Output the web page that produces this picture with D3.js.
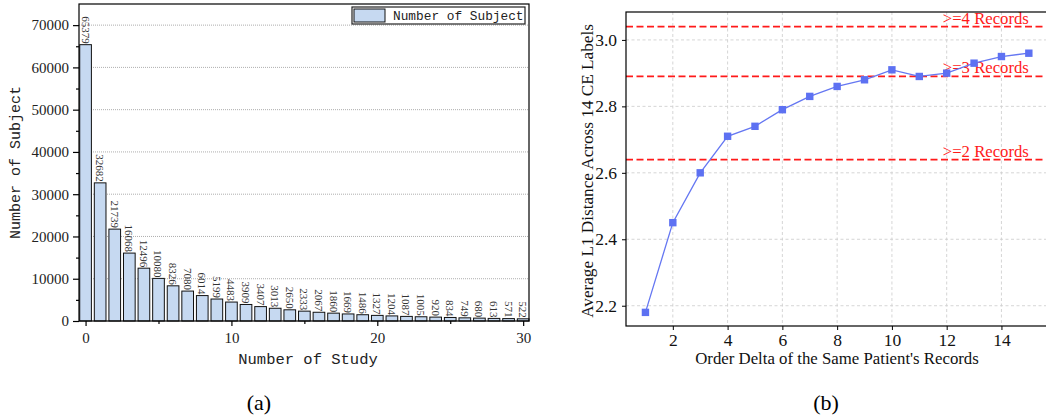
<!DOCTYPE html>
<html>
<head>
<meta charset="utf-8">
<script src="https://cdn.jsdelivr.net/npm/d3@7"></script>
<style>
  body { margin: 0; background: #fff; }
  svg { display: block; }
</style>
</head>
<body>
<div id="canvas"></div>
<script>
"use strict"

// DATA
let studyCounts = d3.range(0, 31)
let subjectCounts = [65379, 32682, 21739, 16068, 12496, 10080, 8326, 7080, 6014, 5199,
  4483, 3909, 3407, 3013, 2650, 2333, 2067, 1860, 1669, 1486,
  1327, 1204, 1087, 1005, 920, 834, 749, 680, 613, 571, 522]
let leftYTicks = [0, 10000, 20000, 30000, 40000, 50000, 60000, 70000]
let leftXTicks = [0, 10, 20, 30]

let orderDelta = [1, 2, 3, 4, 5, 6, 7, 8, 9, 10, 11, 12, 13, 14, 15]
let avgL1 = [2.18, 2.45, 2.60, 2.71, 2.74, 2.79, 2.83, 2.86, 2.88, 2.91, 2.89, 2.90, 2.93, 2.95, 2.96]
let refLevels = [3.04, 2.89, 2.64]
let refLabels = [">=4 Records", ">=3 Records", ">=2 Records"]
let rightXTicks = [2, 4, 6, 8, 10, 12, 14]
let rightYTicks = [2.2, 2.4, 2.6, 2.8, 3.0]

/* canvas */
let svgWidth = 1046
let svgHeight = 419

let svg = d3.select("#canvas")
  .append("svg")
  .attr("width", svgWidth)
  .attr("height", svgHeight)

let serif = "'Liberation Serif', 'Times New Roman', serif"
let mono = "'Liberation Mono', 'DejaVu Sans Mono', monospace"

// ---------------- LEFT CHART (a) ----------------
let aLeft = 79, aRight = 529, aTop = 4, aBottom = 321

let xA = d3.scaleLinear().domain([-0.45, 30.4]).range([aLeft, aRight])
let yA = d3.scaleLinear().domain([0, 75000]).range([aBottom, aTop])

// dotted gridlines
svg.selectAll(".gridA")
  .data(leftYTicks.slice(1))
  .join("line")
  .attr("x1", aLeft)
  .attr("x2", aRight)
  .attr("y1", d => yA(d))
  .attr("y2", d => yA(d))
  .attr("stroke", "#999")
  .attr("stroke-width", 0.8)
  .attr("stroke-dasharray", "1,1")

// bars
let barW = xA(0.8) - xA(0)
svg.selectAll(".bar")
  .data(subjectCounts)
  .join("rect")
  .attr("x", (d, i) => xA(studyCounts[i]) - barW / 2)
  .attr("y", d => yA(d))
  .attr("width", barW)
  .attr("height", d => aBottom - yA(d))
  .attr("fill", "#c6d9f1")
  .attr("stroke", "#111")
  .attr("stroke-width", 1)

// bar labels, rotated
svg.selectAll(".barLabel")
  .data(subjectCounts)
  .join("text")
  .attr("transform", (d, i) => "translate(" + xA(studyCounts[i]) + "," + (yA(d) - 1) + ") rotate(90)")
  .attr("text-anchor", "end")
  .attr("dominant-baseline", "central")
  .style("font-family", serif)
  .style("font-size", "11px")
  .attr("fill", "#333")
  .text(d => d)

// frame
svg.append("rect")
  .attr("x", aLeft)
  .attr("y", aTop)
  .attr("width", aRight - aLeft)
  .attr("height", aBottom - aTop)
  .attr("fill", "none")
  .attr("stroke", "black")
  .attr("stroke-width", 1.2)

// axes
let yAxisA = svg.append("g")
  .attr("transform", "translate(" + aLeft + ",0)")
  .call(d3.axisLeft(yA).tickValues(leftYTicks).tickSize(6).tickPadding(4).tickFormat(d3.format("d")))
svg.append("g")
  .attr("transform", "translate(" + aLeft + ",0)")
  .call(d3.axisLeft(yA).tickValues(d3.range(5000, 75000, 10000)).tickSize(3).tickFormat(""))
let xAxisA = svg.append("g")
  .attr("transform", "translate(0," + aBottom + ")")
  .call(d3.axisBottom(xA).tickValues(leftXTicks).tickSize(5).tickPadding(6))
svg.append("g")
  .attr("transform", "translate(0," + aBottom + ")")
  .call(d3.axisBottom(xA).tickValues([5, 15, 25]).tickSize(3).tickFormat(""))

svg.selectAll(".domain").remove()
svg.selectAll(".tick line").attr("stroke", "black").attr("stroke-width", 1.2)
yAxisA.selectAll("text").style("font-family", serif).style("font-size", "15px").attr("fill", "#222")
xAxisA.selectAll("text").style("font-family", serif).style("font-size", "15px").attr("fill", "#222")

// axis titles
svg.append("text")
  .attr("x", (aLeft + aRight) / 2 + 4)
  .attr("y", 364)
  .attr("text-anchor", "middle")
  .style("font-family", mono)
  .style("font-size", "15.5px")
  .attr("fill", "#222")
  .text("Number of Study")

svg.append("text")
  .attr("transform", "translate(16," + (aTop + aBottom) / 2 + ") rotate(-90)")
  .attr("text-anchor", "middle")
  .attr("dominant-baseline", "central")
  .style("font-family", mono)
  .style("font-size", "15px")
  .attr("fill", "#222")
  .text("Number of Subject")

// legend
svg.append("rect")
  .attr("x", 352)
  .attr("y", 7)
  .attr("width", 173)
  .attr("height", 17)
  .attr("fill", "white")
  .attr("stroke", "#222")
  .attr("stroke-width", 1.2)
svg.append("rect")
  .attr("x", 354)
  .attr("y", 9)
  .attr("width", 31)
  .attr("height", 13)
  .attr("fill", "#c6d9f1")
  .attr("stroke", "#111")
svg.append("text")
  .attr("x", 393)
  .attr("y", 16)
  .attr("dominant-baseline", "central")
  .style("font-family", mono)
  .style("font-size", "12.8px")
  .attr("fill", "#222")
  .text("Number of Subject")

svg.append("text")
  .attr("x", 259)
  .attr("y", 410)
  .attr("text-anchor", "middle")
  .style("font-family", serif)
  .style("font-size", "22px")
  .text("(a)")

// ---------------- RIGHT CHART (b) ----------------
let bLeft = 626, bRight = 1048, bTop = 12, bBottom = 326

let xB = d3.scaleLinear().domain([0.29, 15.7]).range([bLeft, bRight])
let yB = d3.scaleLinear().domain([2.139, 3.084]).range([bBottom, bTop])

// dashed grid
svg.selectAll(".gridBx")
  .data(rightXTicks)
  .join("line")
  .attr("x1", d => xB(d))
  .attr("x2", d => xB(d))
  .attr("y1", bTop)
  .attr("y2", bBottom)
  .attr("stroke", "#d0d0d0")
  .attr("stroke-width", 0.9)
  .attr("stroke-dasharray", "3,2.5")
svg.selectAll(".gridBy")
  .data(rightYTicks)
  .join("line")
  .attr("x1", bLeft)
  .attr("x2", bRight)
  .attr("y1", d => yB(d))
  .attr("y2", d => yB(d))
  .attr("stroke", "#d0d0d0")
  .attr("stroke-width", 0.9)
  .attr("stroke-dasharray", "3,2.5")

// reference lines
svg.selectAll(".refLine")
  .data(refLevels)
  .join("line")
  .attr("x1", bLeft)
  .attr("x2", bRight)
  .attr("y1", d => yB(d))
  .attr("y2", d => yB(d))
  .attr("stroke", "#ff1a1a")
  .attr("stroke-width", 1.8)
  .attr("stroke-dasharray", "7,3.5")

svg.selectAll(".refLabel")
  .data(refLevels)
  .join("text")
  .attr("x", xB(15))
  .attr("y", d => yB(d) - 3)
  .attr("text-anchor", "end")
  .style("font-family", serif)
  .style("font-size", "16.7px")
  .attr("fill", "#ff1a1a")
  .text((d, i) => refLabels[i])

// line + markers
let line = d3.line()
  .x((d, i) => xB(orderDelta[i]))
  .y(d => yB(d))

svg.append("path")
  .datum(avgL1)
  .attr("d", line)
  .attr("fill", "none")
  .attr("stroke", "#6577f2")
  .attr("stroke-width", 1.3)

svg.selectAll(".marker")
  .data(avgL1)
  .join("rect")
  .attr("x", (d, i) => xB(orderDelta[i]) - 3.7)
  .attr("y", d => yB(d) - 3.7)
  .attr("width", 7.4)
  .attr("height", 7.4)
  .attr("fill", "#5d71f2")

// frame
svg.append("rect")
  .attr("x", bLeft)
  .attr("y", bTop)
  .attr("width", bRight - bLeft)
  .attr("height", bBottom - bTop)
  .attr("fill", "none")
  .attr("stroke", "black")
  .attr("stroke-width", 1.2)

let yAxisB = svg.append("g")
  .attr("transform", "translate(" + bLeft + ",0)")
  .call(d3.axisLeft(yB).tickValues(rightYTicks).tickSize(4).tickPadding(5).tickFormat(d3.format(".1f")))
let xAxisB = svg.append("g")
  .attr("transform", "translate(0," + bBottom + ")")
  .call(d3.axisBottom(xB).tickValues(rightXTicks).tickSize(4).tickPadding(4))

yAxisB.select(".domain").remove()
xAxisB.select(".domain").remove()
yAxisB.selectAll(".tick line").attr("stroke", "black").attr("stroke-width", 1)
xAxisB.selectAll(".tick line").attr("stroke", "black").attr("stroke-width", 1)
yAxisB.selectAll("text").style("font-family", serif).style("font-size", "17.5px").attr("fill", "#111")
xAxisB.selectAll("text").style("font-family", serif).style("font-size", "17.5px").attr("fill", "#111")

svg.append("text")
  .attr("x", 837)
  .attr("y", 364)
  .attr("text-anchor", "middle")
  .style("font-family", serif)
  .style("font-size", "16.8px")
  .attr("fill", "#111")
  .text("Order Delta of the Same Patient's Records")

svg.append("text")
  .attr("transform", "translate(587," + 171 + ") rotate(-90)")
  .attr("text-anchor", "middle")
  .attr("dominant-baseline", "central")
  .style("font-family", serif)
  .style("font-size", "17.2px")
  .attr("fill", "#111")
  .text("Average L1 Distance Across 14 CE Labels")

svg.append("text")
  .attr("x", 826)
  .attr("y", 410)
  .attr("text-anchor", "middle")
  .style("font-family", serif)
  .style("font-size", "22px")
  .text("(b)")
</script>
</body>
</html>
